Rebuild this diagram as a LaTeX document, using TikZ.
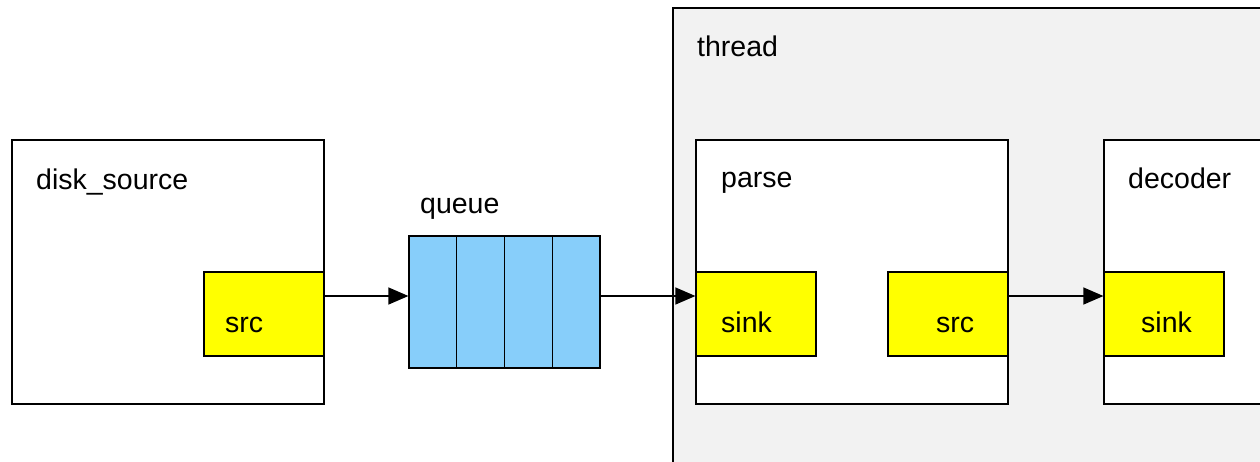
\documentclass[tikz,border=0pt]{standalone}
\usepackage{fontspec}
\setmainfont{Liberation Sans}
\usetikzlibrary{arrows.meta,calc}
\definecolor{portyellow}{HTML}{FFFF00}
\definecolor{queueblue}{HTML}{87CEFA}
\definecolor{threadgray}{HTML}{F2F2F2}
\tikzset{
  elem/.style={draw=black,line width=1.2pt,fill=white,minimum width=312pt,minimum height=264pt,inner sep=0pt},
  port/.style={draw=black,line width=1.2pt,fill=portyellow,minimum width=120pt,minimum height=84pt,inner sep=0pt},
  qbox/.style={draw=black,line width=1.2pt,fill=queueblue,minimum width=191pt,minimum height=132pt,inner sep=0pt},
  tbox/.style={draw=black,line width=1.2pt,fill=threadgray,minimum width=627pt,minimum height=492pt,inner sep=0pt},
  lbl/.style={anchor=base west,inner sep=0pt,font=\fontsize{28.5}{34}\selectfont},
  arr/.style={line width=1.2pt,-{Triangle[length=20pt,width=17pt]}}
}
\begin{document}
\begin{tikzpicture}[x=1pt,y=-1pt]
\useasboundingbox (0,0) rectangle (1260,461);
\clip (0,0) rectangle (1260,461);
\fill[white] (0,0) rectangle (1260,461);
% thread
\node[tbox] (thread) at (986.5,254) {};
\node[lbl] (threadlbl) at (697,56) {thread};
% disk_source
\node[elem] (disk) at (168,272) {};
\node[lbl] (disklbl) at (36,189) {disk\_source};
\node[port] (srcA) at (264,314) {};
\node[lbl] (srcAlbl) at (225,332) {src};
% queue
\node[qbox] (queue) at (504.5,302) {};
\foreach \i in {1,2,3}
  \draw[line width=1.2pt] ($(queue.north west)!\i/4!(queue.north east)$) -- ($(queue.south west)!\i/4!(queue.south east)$);
\node[lbl] (queuelbl) at (420,213) {queue};
% parse
\node[elem] (parse) at (852,272) {};
\node[lbl] (parselbl) at (721,187) {parse};
\node[port] (sinkP) at (756,314) {};
\node[lbl] (sinkPlbl) at (721,332) {sink};
\node[port] (srcP) at (948,314) {};
\node[lbl] (srcPlbl) at (936,332) {src};
% decoder
\node[elem] (decoder) at (1260,272) {};
\node[lbl] (decoderlbl) at (1128,188) {decoder};
\node[port] (sinkD) at (1164,314) {};
\node[lbl] (sinkDlbl) at (1141,332) {sink};
% connectors
\draw[arr] ([yshift=18pt]srcA.east) -- ([yshift=18pt]srcA.east -| queue.west);
\draw[arr] ([yshift=18pt]srcA.east -| queue.east) -- ([yshift=18pt]sinkP.west);
\draw[arr] ([yshift=18pt]srcP.east) -- ([yshift=18pt]sinkD.west);
\end{tikzpicture}
\end{document}
